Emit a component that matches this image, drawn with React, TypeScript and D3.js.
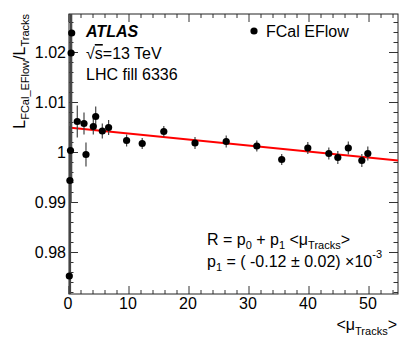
import React from "react";
import * as d3 from "d3";

const muValues = [0.05, 0.15, 0.25, 0.35, 0.45, 1.38, 2.5, 2.83, 4.05, 4.45, 5.55, 6.6, 9.6, 12.2, 15.8, 21.0, 26.2, 31.3, 35.45, 39.8, 43.3, 44.8, 46.55, 48.8, 49.8];
const ratios = [0.9753, 0.9944, 1.0004, 1.0199, 1.0239, 1.0062, 1.0058, 0.9996, 1.0052, 1.0072, 1.0043, 1.0050, 1.0024, 1.0018, 1.0042, 1.0019, 1.0022, 1.0013, 0.9986, 1.0009, 0.9998, 0.9990, 1.0009, 0.9984, 0.9998];
const errors = [0.03, 0.03, 0.03, 0.03, 0.03, 0.0032, 0.0022, 0.0024, 0.0016, 0.002, 0.0015, 0.0015, 0.0012, 0.0011, 0.0011, 0.0012, 0.0012, 0.0011, 0.0011, 0.0012, 0.0012, 0.0013, 0.0013, 0.0013, 0.0014];
const fitP0 = 1.005;
const fitP1 = -0.00012;
const xMajorTicks = [0, 10, 20, 30, 40, 50];
const yMajorTicks = [0.98, 0.99, 1.0, 1.01, 1.02];
const yTickLabels = ["0.98", "0.99", "1", "1.01", "1.02"];

const W = 414, H = 353;
const L = 69, R = 398, T = 14, B = 294;
const FONT = "'Liberation Sans', Arial, Helvetica, sans-serif";

export default function App() {
  const x = d3.scaleLinear().domain([0, 54.83]).range([L, R]);
  const y = d3.scaleLinear().domain([0.9717, 1.0277]).range([B, T]);
  const xMinor = d3.range(0, 55, 2).filter((v) => v % 10 !== 0);
  const yMinor = d3.range(0.972, 1.0277, 0.002).filter((v) => Math.abs(Math.round(v * 100) - v * 100) > 1e-6);
  const fitLine = d3.line<number>().x((m) => x(m)).y((m) => y(fitP0 + fitP1 * m));
  const fitMus = [0.3, 54.83];
  const ax = "#333";
  return (
    <svg width={W} height={H} style={{ position: "absolute", left: 0, top: 0, background: "#fff" }} fontFamily={FONT}>
      <defs>
        <clipPath id="frame"><rect x={L} y={T} width={R - L} height={B - T} /></clipPath>
      </defs>
      <rect width={W} height={H} fill="#fff" />
      {xMajorTicks.map((t) => (
        <g key={"xm" + t}>
          <line x1={x(t)} x2={x(t)} y1={B} y2={B - 8} stroke={ax} />
          <line x1={x(t)} x2={x(t)} y1={T} y2={T + 8} stroke={ax} />
          <text x={x(t) - 1} y={308.5} fontSize={16} textAnchor="middle">{t}</text>
        </g>
      ))}
      {xMinor.map((t) => (
        <g key={"xn" + t}>
          <line x1={x(t)} x2={x(t)} y1={B} y2={B - 4} stroke={ax} />
          <line x1={x(t)} x2={x(t)} y1={T} y2={T + 4} stroke={ax} />
        </g>
      ))}
      {yMajorTicks.map((t, i) => (
        <g key={"ym" + t}>
          <line x1={L} x2={L + 9} y1={y(t)} y2={y(t)} stroke={ax} />
          <line x1={R} x2={R - 9} y1={y(t)} y2={y(t)} stroke={ax} />
          <text x={66} y={y(t)} dy="0.36em" fontSize={16} textAnchor="end">{yTickLabels[i]}</text>
        </g>
      ))}
      {yMinor.map((t) => (
        <g key={"yn" + t}>
          <line x1={L} x2={L + 4.5} y1={y(t)} y2={y(t)} stroke={ax} />
          <line x1={R} x2={R - 4.5} y1={y(t)} y2={y(t)} stroke={ax} />
        </g>
      ))}
      <rect x={L} y={T} width={R - L} height={B - T} fill="none" stroke="#222" />
      <path d={fitLine(fitMus) || ""} stroke="#ff0000" strokeWidth={2} fill="none" clipPath="url(#frame)" />
      <g clipPath="url(#frame)">
        {muValues.map((m, i) => (
          <line key={"e" + i} x1={x(m)} x2={x(m)} y1={y(ratios[i] - errors[i])} y2={y(ratios[i] + errors[i])} stroke="#444" strokeWidth={1.2} />
        ))}
      </g>
      {muValues.map((m, i) => (
        <circle key={"p" + i} cx={x(m)} cy={y(ratios[i])} r={3.6} fill="#000" />
      ))}
      <text x={86} y={37} fontSize={16} fontWeight="bold" fontStyle="italic">ATLAS</text>
      <text x={86} y={59} fontSize={16}>√<tspan textDecoration="overline" style={{ textDecoration: "overline" }}>s</tspan>=13 TeV</text>
      <text x={86} y={80} fontSize={16}>LHC fill 6336</text>
      <circle cx={254} cy={31} r={3.6} fill="#000" />
      <text x={266} y={37} fontSize={16}>FCal EFlow</text>
      <text x={207} y={245} fontSize={16}>
        R = p<tspan fontSize={11} dy={4}>0</tspan><tspan dy={-4}> + p</tspan><tspan fontSize={11} dy={4}>1</tspan><tspan dy={-4}> &lt;μ</tspan><tspan fontSize={11} dy={4}>Tracks</tspan><tspan dy={-4}>&gt;</tspan>
      </text>
      <text x={207} y={267} fontSize={16}>
        p<tspan fontSize={11} dy={4}>1</tspan><tspan dy={-4}> = ( -0.12 ± 0.02) ×10</tspan><tspan fontSize={11} dy={-9}>-3</tspan>
      </text>
      <text x={397} y={330} fontSize={16} textAnchor="end">
        &lt;μ<tspan fontSize={11} dy={5}>Tracks</tspan><tspan dy={-5}>&gt;</tspan>
      </text>
      <text transform={`translate(25,${T}) rotate(-90)`} fontSize={16} textAnchor="end">
        L<tspan fontSize={11} dy={4}>FCal_EFlow</tspan><tspan dy={-4}>/L</tspan><tspan fontSize={11} dy={4}>Tracks</tspan>
      </text>
    </svg>
  );
}
